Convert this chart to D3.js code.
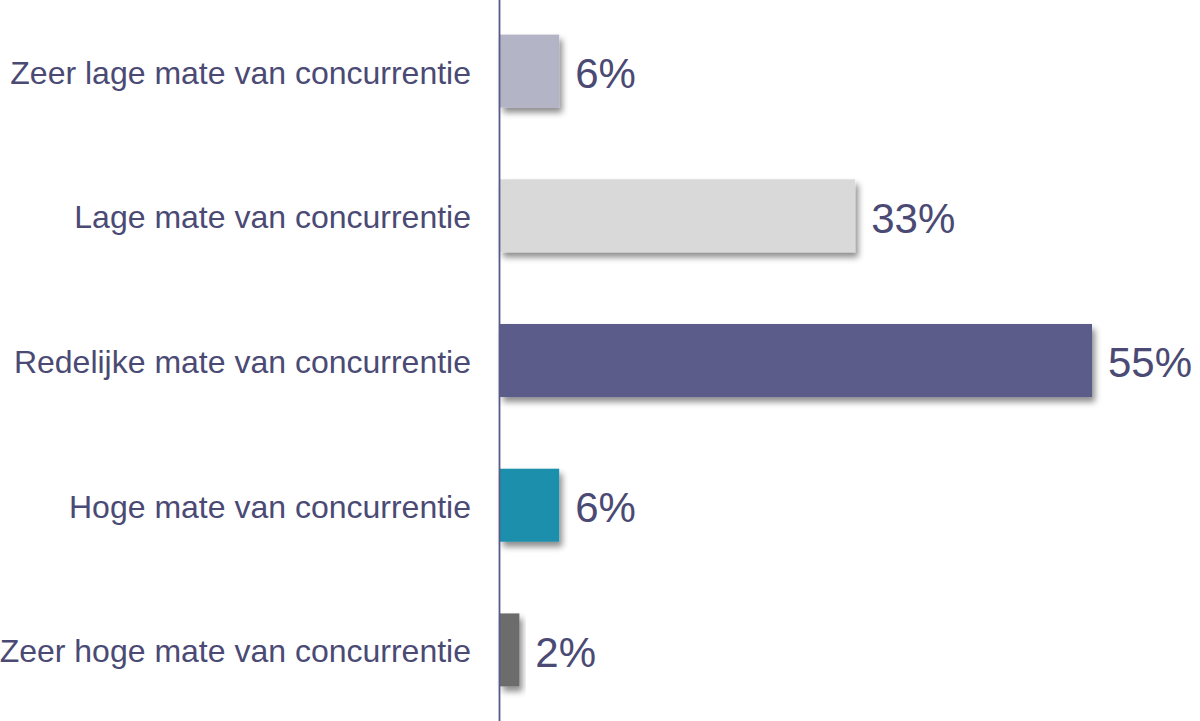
<!DOCTYPE html>
<html><head><meta charset="utf-8">
<script src="https://cdn.jsdelivr.net/npm/d3@7"></script>
<style>html,body{margin:0;padding:0;background:#fff;}svg{display:block;font-family:"Liberation Sans",Arial,sans-serif;}</style>
</head><body><div id="chart"></div>
<script>
const categories = ["Zeer lage mate van concurrentie","Lage mate van concurrentie","Redelijke mate van concurrentie","Hoge mate van concurrentie","Zeer hoge mate van concurrentie"];
const values = [5.5, 33, 55, 5.5, 1.8];
const valueLabels = ["6%","33%","55%","6%","2%"];
const colors = ["#b4b4c7","#d9d9d9","#5b5b8a","#1f8fad","#6c6c6c"];

const W = 1200, H = 721;
const svg = d3.select("#chart").append("svg").attr("width", W).attr("height", H);
const defs = svg.append("defs");
const f = defs.append("filter").attr("id","shadow").attr("x","-20%").attr("y","-20%").attr("width","150%").attr("height","160%");
f.append("feDropShadow").attr("dx",3).attr("dy",5).attr("stdDeviation",3).attr("flood-color","#000").attr("flood-opacity",0.45);

const x = d3.scaleLinear().domain([0, 55]).range([500, 1092]);
const y = d3.scaleBand().domain(categories).range([0, H]).paddingInner(0.4955).paddingOuter(0.239);

svg.append("g").selectAll("rect").data(categories).join("rect")
  .attr("x", x(0)).attr("y", d => y(d))
  .attr("width", (d,i) => x(values[i]) - x(0)).attr("height", y.bandwidth())
  .attr("fill", (d,i) => colors[i]).attr("filter","url(#shadow)");

svg.append("g").selectAll("text").data(categories).join("text")
  .attr("x", 471).attr("y", d => y(d) + y.bandwidth()/2).attr("dy","0.39em")
  .attr("text-anchor","end").attr("font-size", 32).attr("fill","#4a4a74")
  .text(d => d);

svg.append("g").selectAll("text").data(categories).join("text")
  .attr("x", (d,i) => x(values[i]) + 16).attr("y", d => y(d) + y.bandwidth()/2).attr("dy","0.40em")
  .attr("font-size", 42).attr("fill","#4a4a74")
  .text((d,i) => valueLabels[i]);

svg.append("line").attr("x1", 499.5).attr("x2", 499.5).attr("y1", 0).attr("y2", H)
  .attr("stroke","#5a5a88").attr("stroke-width",1.8);
</script></body></html>
